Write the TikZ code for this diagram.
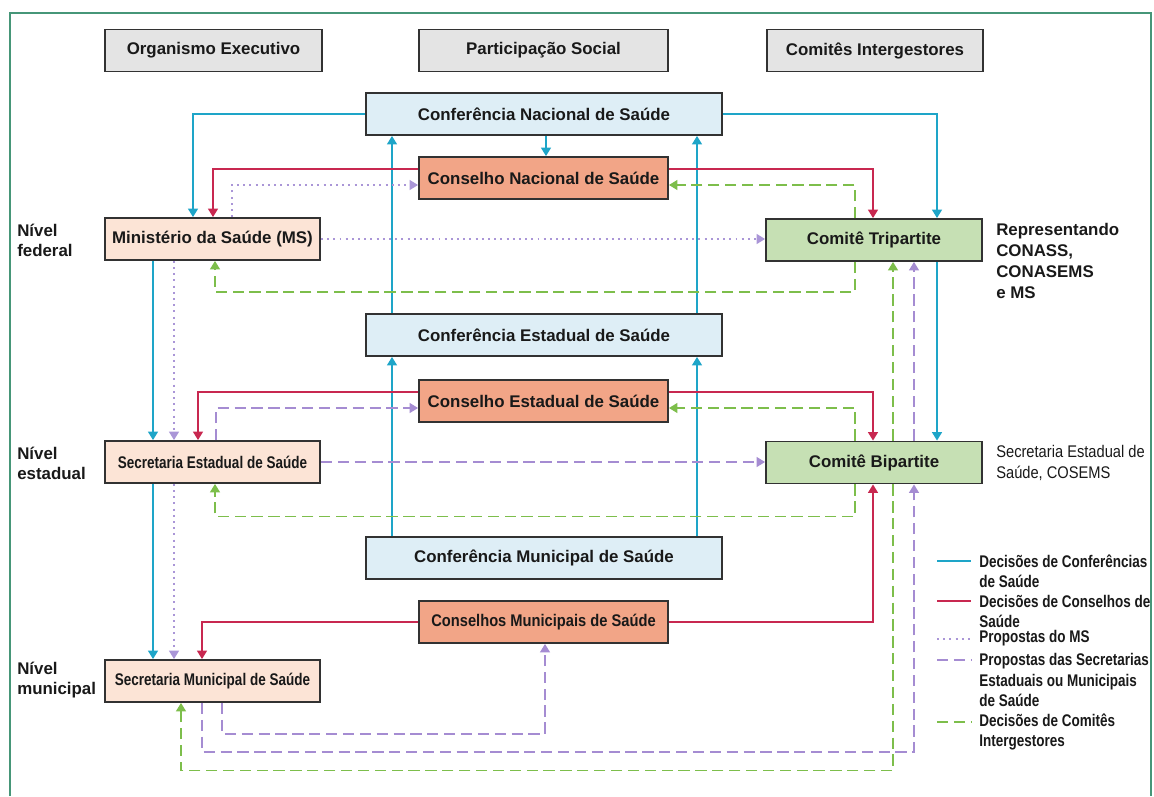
\documentclass[tikz,border=0pt]{standalone}
\usepackage{fontspec}
\setmainfont{Liberation Sans}
\newfontfamily\narrowfont[FakeStretch=0.8]{Liberation Sans}
\newfontfamily\semifont[FakeStretch=0.87]{Liberation Sans}
\usepackage{tikz}
\usetikzlibrary{positioning,arrows.meta}

\definecolor{framec}{RGB}{70,150,120}
\definecolor{boxline}{RGB}{50,50,50}
\definecolor{txt}{RGB}{25,25,25}
\definecolor{headfill}{RGB}{228,228,228}
\definecolor{conffill}{RGB}{222,238,246}
\definecolor{consfill}{RGB}{242,165,135}
\definecolor{secfill}{RGB}{252,228,214}
\definecolor{comifill}{RGB}{198,224,180}
\definecolor{confline}{RGB}{30,165,200}
\definecolor{consline}{RGB}{200,40,80}
\definecolor{msline}{RGB}{170,150,215}
\definecolor{secline}{RGB}{165,140,210}
\definecolor{comiline}{RGB}{125,190,75}

\begin{document}
\begin{tikzpicture}[x=0.025cm,y=-0.025cm,
    box/.style={draw=boxline,line width=1.3pt,minimum height=10.5mm,inner sep=0pt,text=txt,
      font=\fontsize{12}{14}\selectfont\bfseries},
    head/.style={box,fill=headfill,minimum width=54.25mm},
    confbox/.style={box,fill=conffill,minimum width=89mm},
    consbox/.style={box,fill=consfill,minimum width=62.25mm},
    secbox/.style={box,fill=secfill,minimum width=53.75mm,
      font=\narrowfont\fontsize{12}{14}\selectfont\bfseries},
    comibox/.style={box,fill=comifill,minimum width=54mm},
    link/.style={line width=1.2pt,-{Triangle[width=7pt,length=6pt]}},
    conf/.style={link,draw=confline},
    cons/.style={link,draw=consline},
    propms/.style={link,draw=msline,dash pattern=on 1.4pt off 3pt},
    propsec/.style={link,draw=secline,dash pattern=on 8pt off 4pt},
    comit/.style={link,draw=comiline,dash pattern=on 8pt off 4pt},
    lvl/.style={anchor=west,align=left,inner sep=0pt,text=txt,
      font=\fontsize{12}{14.2}\selectfont\bfseries},
    note/.style={anchor=west,align=left,inner sep=0pt,text=txt,
      font=\narrowfont\fontsize{12}{14.5}\selectfont\bfseries}]
    \useasboundingbox (0,0) rectangle (1154,796);

    % Draw frame
    \draw[framec,line width=1.4pt] (10,796) -- (10,13) -- (1151,13) -- (1151,796);

    % Draw column heads
    \node[head] (org) at (213.5,50.5) {Organismo Executivo};
    \node[head,minimum width=62.25mm] (part) at (543.5,50.5) {Participação Social};
    \node[head,minimum width=54mm] (comi) at (875,50.5) {Comitês Intergestores};

    % Draw federal level
    \node[confbox] (confnac) at (544,114) {Conferência Nacional de Saúde};
    \node[consbox] (conselnac) at (543.5,178) {Conselho Nacional de Saúde};
    \node[box,fill=secfill,minimum width=53.75mm] (ms) at (212.5,239) {Ministério da Saúde (MS)};
    \node[comibox] (tri) at (874,240) {Comitê Tripartite};

    % Draw state level
    \node[confbox] (confest) at (544,335) {Conferência Estadual de Saúde};
    \node[consbox] (conselest) at (543.5,401) {Conselho Estadual de Saúde};
    \node[secbox] (secest) at (212.5,462) {Secretaria Estadual de Saúde};
    \node[comibox] (bi) at (874,462.5) {Comitê Bipartite};

    % Draw municipal level
    \node[confbox] (confmun) at (544,558) {Conferência Municipal de Saúde};
    \node[consbox,font=\semifont\fontsize{12}{14}\selectfont\bfseries] (conselmun) at (543.5,622) {Conselhos Municipais de Saúde};
    \node[secbox] (secmun) at (212.5,681) {Secretaria Municipal de Saúde};

    % Draw level labels
    \node[lvl] (nvfed) at (17,240) {Nível\\federal};
    \node[lvl] (nvest) at (17,463) {Nível\\estadual};
    \node[lvl] (nvmun) at (17,680.5) {Nível\\municipal};
    \node[lvl,font=\fontsize{12}{15}\selectfont\bfseries] (reptri) at (996,261) {Representando\\CONASS,\\CONASEMS\\e MS};
    \node[note,font=\semifont\fontsize{12}{15}\selectfont] (repbi) at (996,463) {Secretaria Estadual de\\Saúde, COSEMS};

    % Decisions of conferences
    \draw[conf] (confnac.west) -| (ms.north -| 193,0);
    \draw[conf] (confnac.south -| 546,0) -- (conselnac.north -| 546,0);
    \draw[conf] (confnac.east) -| (tri.north -| 937,0);
    \draw[conf] (confest.north -| 392,0) -- (confnac.south -| 392,0);
    \draw[conf] (confest.north -| 697,0) -- (confnac.south -| 697,0);
    \draw[conf] (confmun.north -| 392,0) -- (confest.south -| 392,0);
    \draw[conf] (confmun.north -| 697,0) -- (confest.south -| 697,0);
    \draw[conf] (ms.south -| 153,0) -- (secest.north -| 153,0);
    \draw[conf] (secest.south -| 153,0) -- (secmun.north -| 153,0);
    \draw[conf] (tri.south -| 937,0) -- (bi.north -| 937,0);

    % Decisions of councils
    \draw[cons] (conselnac.west |- 0,169) -| (ms.north -| 213,0);
    \draw[cons] (conselnac.east |- 0,169) -| (tri.north -| 873,0);
    \draw[cons] (conselest.west |- 0,392) -| (secest.north -| 198,0);
    \draw[cons] (conselest.east |- 0,392) -| (bi.north -| 873,0);
    \draw[cons] (conselmun.west) -| (secmun.north -| 202,0);
    \draw[cons] (conselmun.east) -| (bi.south -| 873,0);

    % Proposals of MS
    \draw[propms] (ms.north -| 232,0) |- (conselnac.west |- 0,185);
    \draw[propms] (ms.east) -- (tri.west |- ms.east);
    \draw[propms] (ms.south -| 174,0) -- (secest.north -| 174,0);
    \draw[propms] (secest.south -| 174,0) -- (secmun.north -| 174,0);

    % Proposals of secretariats
    \draw[propsec] (secest.north -| 216,0) |- (conselest.west |- 0,408);
    \draw[propsec] (secest.east) -- (bi.west |- secest.east);
    \draw[propsec] (secmun.south -| 222,0) -- ++(0,31) -| (conselmun.south -| 545,0);
    \draw[propsec] (secmun.south -| 202,0) -- ++(0,49) -| (bi.south -| 914,0);
    \draw[propsec] (bi.north -| 914,0) -- (tri.south -| 914,0);

    % Decisions of committees
    \draw[comit] (tri.south -| 855,0) -- ++(0,30) -| (ms.south -| 215,0);
    \draw[comit] (tri.north -| 855,0) |- (conselnac.east |- 0,185);
    \draw[comit] (bi.north -| 855,0) |- (conselest.east |- 0,408);
    \draw[comit] (bi.south -| 855,0) -- ++(0,32) -| (secest.south -| 215,0);
    \draw[comit] (bi.north -| 893,0) -- (tri.south -| 893,0);
    \draw[comit] (bi.south -| 893,0) -- ++(0,286) -| (secmun.south -| 181,0);

    % Draw legend
    \coordinate (lg1) at (937,561);
    \coordinate (lg2) at (937,601);
    \coordinate (lg3) at (937,639);
    \coordinate (lg4) at (937,660);
    \coordinate (lg5) at (937,722);
    \draw[conf,-] (lg1) -- ++(34,0);
    \draw[cons,-] (lg2) -- ++(34,0);
    \draw[propms,-] (lg3) -- ++(34,0);
    \draw[propsec,-] (lg4) -- ++(34,0);
    \draw[comit,-] (lg5) -- ++(34,0);
    \node[note] (lgt1) at (979,571) {Decisões de Conferências\\de Saúde};
    \node[note] (lgt2) at (979,611.5) {Decisões de Conselhos de\\Saúde};
    \node[note] (lgt3) at (979,638) {Propostas do MS};
    \node[note] (lgt4) at (979,680) {Propostas das Secretarias\\Estaduais ou Municipais\\de Saúde};
    \node[note] (lgt5) at (979,732) {Decisões de Comitês\\Intergestores};
\end{tikzpicture}
\end{document}
